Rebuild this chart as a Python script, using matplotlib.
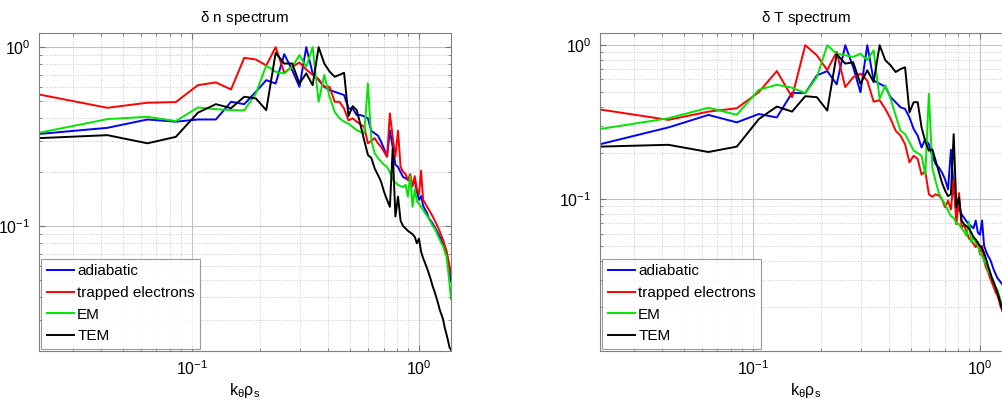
import numpy as np
import matplotlib
matplotlib.use("Agg")
import matplotlib.pyplot as plt
from matplotlib.ticker import LogLocator, LogFormatterSciNotation, NullFormatter

plt.rcParams['font.family'] = ['Liberation Sans', 'DejaVu Sans']
plt.rcParams['mathtext.fontset'] = 'custom'
plt.rcParams['mathtext.rm'] = 'Liberation Sans'
plt.rcParams['mathtext.it'] = 'Liberation Sans'
plt.rcParams['mathtext.bf'] = 'Liberation Sans:bold'

# toroidal mode numbers and the wavenumber grid (k_min = 0.0213)
modes = np.arange(1, 66)
k_min = 0.0213
k_theta_rho_s = k_min * modes

series_names = ["adiabatic", "trapped electrons", "EM", "TEM"]
series_colors = ["#0000ff", "#ff0000", "#00e600", "#000000"]

# ---------- density spectrum (normalised) ----------
dn_adiabatic = [0.327, 0.354, 0.394, 0.383, 0.394, 0.394, 0.495, 0.48, 0.563, 0.654,
                0.626, 0.914, 0.744, 0.60, 1.0, 0.713, 0.654, 0.60, 0.575, 0.563,
                0.551, 0.54, 0.454, 0.454, 0.417, 0.417, 0.41, 0.40, 0.34, 0.33,
                0.32, 0.296, 0.27, 0.244, 0.343, 0.277, 0.22, 0.214, 0.20, 0.188,
                0.185, 0.181, 0.178, 0.17, 0.18, 0.155, 0.14, 0.147, 0.13, 0.123,
                0.118, 0.110, 0.107, 0.103, 0.099, 0.095, 0.091, 0.087, 0.083, 0.080,
                0.076, 0.072, 0.065, 0.057, 0.049]
dn_trapped = [0.544, 0.458, 0.489, 0.493, 0.613, 0.635, 0.58, 0.872, 0.853, 0.79,
              1.0, 0.719, 0.777, 0.82, 0.75, 0.70, 0.663, 0.60, 0.60, 0.495,
              0.495, 0.454, 0.39, 0.40, 0.383, 0.37, 0.358, 0.29, 0.30, 0.31,
              0.29, 0.277, 0.26, 0.244, 0.426, 0.315, 0.244, 0.341, 0.214, 0.201,
              0.195, 0.181, 0.195, 0.166, 0.19, 0.16, 0.15, 0.204, 0.14, 0.134,
              0.128, 0.123, 0.118, 0.113, 0.108, 0.103, 0.098, 0.093, 0.088, 0.0835,
              0.078, 0.073, 0.066, 0.060, 0.054]
dn_em = [0.332, 0.396, 0.408, 0.386, 0.46, 0.45, 0.445, 0.443, 0.551, 0.79,
         0.728, 0.713, 0.777, 0.902, 0.777, 1.0, 0.495, 0.70, 0.528, 0.435,
         0.40, 0.383, 0.374, 0.358, 0.343, 0.336, 0.33, 0.627, 0.30, 0.255,
         0.24, 0.229, 0.22, 0.214, 0.20, 0.181, 0.175, 0.17, 0.167, 0.165,
         0.17, 0.146, 0.19, 0.128, 0.16, 0.138, 0.133, 0.128, 0.123, 0.118,
         0.114, 0.110, 0.105, 0.10, 0.097, 0.093, 0.088, 0.084, 0.080, 0.077,
         0.072, 0.068, 0.058, 0.048, 0.039]
dn_tem = [0.31, 0.322, 0.29, 0.315, 0.43, 0.48, 0.456, 0.528, 0.517, 0.444,
          0.93, 0.81, 0.81, 0.627, 0.713, 0.613, 1.0, 0.81, 0.73, 0.683,
          0.70, 0.719, 0.412, 0.468, 0.445, 0.366, 0.30, 0.25, 0.24, 0.21,
          0.193, 0.177, 0.155, 0.14, 0.128, 0.27, 0.113, 0.146, 0.107, 0.10,
          0.097, 0.094, 0.092, 0.09, 0.087, 0.08, 0.085, 0.072, 0.066, 0.062,
          0.058, 0.054, 0.05, 0.046, 0.043, 0.040, 0.037, 0.034, 0.032, 0.030,
          0.027, 0.025, 0.023, 0.021, 0.0203]

# ---------- temperature spectrum (normalised) ----------
dT_adiabatic = [0.228, 0.293, 0.353, 0.316, 0.358, 0.34, 0.491, 0.489, 0.637, 0.68,
                0.557, 1.0, 0.722, 0.496, 1.0, 0.59, 0.562, 0.539, 0.46, 0.427,
                0.396, 0.386, 0.34, 0.286, 0.259, 0.217, 0.246, 0.228, 0.192, 0.169,
                0.161, 0.149, 0.135, 0.116, 0.21, 0.12, 0.08, 0.089, 0.08, 0.076,
                0.072, 0.069, 0.067, 0.065, 0.073, 0.061, 0.059, 0.073, 0.05, 0.046,
                0.043, 0.041, 0.038, 0.035, 0.033, 0.031, 0.030, 0.029, 0.028, 0.026,
                0.025, 0.024, 0.023, 0.022, 0.021]
dT_trapped = [0.383, 0.328, 0.371, 0.39, 0.496, 0.68, 0.46, 1.0, 0.86, 0.69,
              0.905, 0.535, 0.62, 0.654, 0.59, 0.43, 0.44, 0.386, 0.333, 0.279,
              0.259, 0.228, 0.174, 0.192, 0.183, 0.145, 0.152, 0.108, 0.104, 0.108,
              0.106, 0.10, 0.089, 0.098, 0.086, 0.135, 0.069, 0.11, 0.066, 0.068,
              0.062, 0.056, 0.054, 0.0515, 0.049, 0.053, 0.044, 0.05, 0.040, 0.036,
              0.034, 0.031, 0.029, 0.027, 0.025, 0.024, 0.022, 0.020, 0.019, 0.017,
              0.016, 0.015, 0.014, 0.0135, 0.013]
dT_em = [0.286, 0.336, 0.393, 0.354, 0.514, 0.554, 0.53, 0.489, 0.62, 1.0,
         0.88, 0.86, 0.84, 0.88, 0.80, 0.928, 0.45, 0.55, 0.449, 0.35,
         0.279, 0.265, 0.234, 0.207, 0.20, 0.192, 0.145, 0.484, 0.16, 0.131,
         0.11, 0.10, 0.093, 0.085, 0.078, 0.076, 0.07, 0.069, 0.065, 0.062,
         0.058, 0.072, 0.053, 0.057, 0.052, 0.05, 0.045, 0.043, 0.040, 0.038,
         0.035, 0.033, 0.031, 0.029, 0.027, 0.026, 0.024, 0.022, 0.020, 0.019,
         0.018, 0.017, 0.016, 0.015, 0.014]
dT_tem = [0.22, 0.226, 0.203, 0.22, 0.332, 0.40, 0.371, 0.467, 0.46, 0.377,
          0.874, 0.76, 0.775, 0.562, 0.687, 0.577, 1.0, 0.80, 0.74, 0.67,
          0.70, 0.72, 0.367, 0.427, 0.427, 0.293, 0.237, 0.207, 0.211, 0.178,
          0.15, 0.128, 0.114, 0.105, 0.108, 0.265, 0.089, 0.103, 0.073, 0.069,
          0.067, 0.065, 0.061, 0.057, 0.055, 0.052, 0.050, 0.048, 0.045, 0.041,
          0.037, 0.034, 0.031, 0.029, 0.027, 0.025, 0.023, 0.021, 0.019, 0.018,
          0.017, 0.016, 0.015, 0.014, 0.013]

panels = [
    dict(title=r"$\delta$ n spectrum", data=[dn_adiabatic, dn_trapped, dn_em, dn_tem],
         ylim=(0.02, 1.2), rect=[39/1003, 52/403, 412/1003, 318/403]),
    dict(title=r"$\delta$ T spectrum", data=[dT_adiabatic, dT_trapped, dT_em, dT_tem],
         ylim=(0.0104, 1.2), rect=[600/1003, 52/403, 412/1003, 318/403]),
]

fig = plt.figure(figsize=(10.03, 4.03), dpi=100)
fig.patch.set_facecolor("white")

for p in panels:
    ax = fig.add_axes(p["rect"])
    for vals, name, col in zip(p["data"], series_names, series_colors):
        ax.plot(k_theta_rho_s, vals, color=col, lw=1.4, label=name)
    ax.set_xscale("log")
    ax.set_yscale("log")
    ax.set_xlim(k_theta_rho_s[0], k_theta_rho_s[-1])
    ax.set_ylim(*p["ylim"])
    for axis in (ax.xaxis, ax.yaxis):
        axis.set_major_locator(LogLocator(base=10))
        axis.set_minor_locator(LogLocator(base=10, subs=np.arange(2, 10)))
        axis.set_major_formatter(LogFormatterSciNotation())
        axis.set_minor_formatter(NullFormatter())
    ax.grid(True, which="major", color="#c4c4c4", lw=0.8, ls="-")
    ax.grid(True, which="minor", color="#c8c8c8", lw=0.7, ls=":")
    ax.set_axisbelow(True)
    ax.tick_params(which="both", direction="in", top=True, right=True, color="#777777")
    ax.tick_params(which="major", length=4, labelsize=11.5, pad=6)
    ax.tick_params(which="minor", length=2)
    for s in ax.spines.values():
        s.set_color("#808080")
        s.set_linewidth(0.8)
    ax.set_title(p["title"], fontsize=11, pad=8)
    ax.set_xlabel(r"$\mathregular{k_{\theta}\rho_s}$", fontsize=11.5, labelpad=2)
    leg = ax.legend(loc="lower left", fontsize=11, frameon=True, fancybox=False,
                    edgecolor="#808080", handlelength=1.8, handletextpad=0.2,
                    borderaxespad=0.15, labelspacing=0.5, borderpad=0.35)
    leg.get_frame().set_linewidth(0.8)

fig.savefig("out.png", dpi=100, facecolor="white")
